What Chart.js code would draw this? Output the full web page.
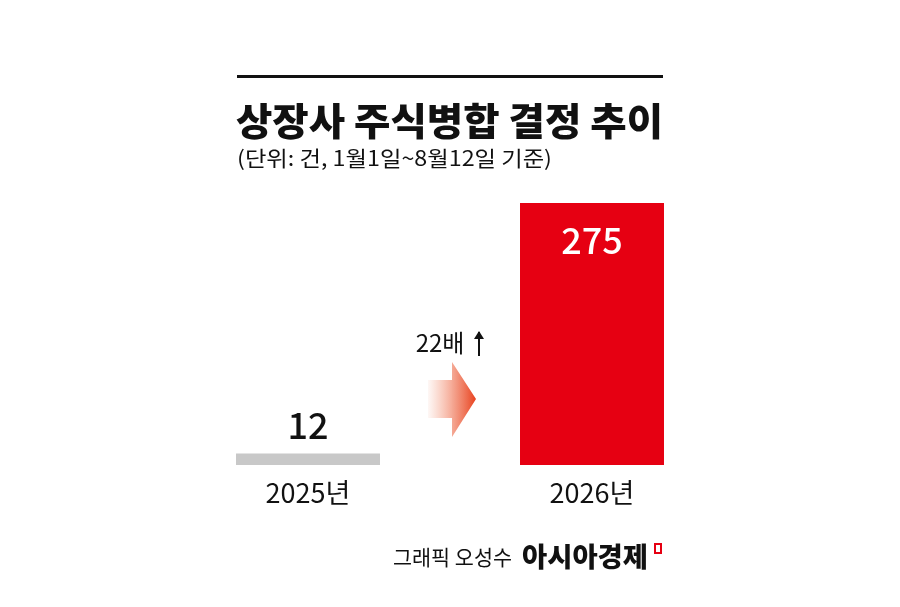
<!DOCTYPE html><html><head><meta charset="utf-8"><style>body{margin:0;background:#fff}</style>
<script src="https://cdn.jsdelivr.net/npm/chart.js@4.4.0/dist/chart.umd.min.js"></script></head><body>
<div style="width:900px;height:607px"><canvas id="c" width="900" height="607"></canvas></div>
<script>
const categories=["2025년","2026년"];
const values=[12,275];
const colors=["#c8c8c8","#e60012"];
const F='"Noto Sans CJK KR"';
function fitText(c,t,x,y,w){const m=c.measureText(t).width;c.save();c.translate(x,y);c.scale(w/m,1);c.fillText(t,0,0);c.restore();}
const deco={id:'deco',afterDatasetsDraw(ch){
 const c=ch.ctx,m=ch.getDatasetMeta(0);c.save();
 c.fillStyle='#111';c.fillRect(237,75,426,3);
 c.textBaseline='middle';c.textAlign='left';
 c.font='900 38px '+F;fitText(c,'상장사 주식병합 결정 추이',236,121,427);
 c.font='21px '+F;fitText(c,'(단위: 건, 1월1일~8월12일 기준)',237,158,315);
 c.textAlign='center';
 m.data.forEach((b,i)=>{
  c.font='27px '+F;c.fillStyle='#111';c.fillText(categories[i],b.x,493);
  if(i==0){c.font='500 36px '+F;c.fillText(values[i],b.x,425);}
  else{c.font='500 36px '+F;c.fillStyle='#fff';c.fillText(values[i],b.x,240);}
 });
 c.fillStyle='#111';c.font='24px '+F;c.fillText('22배',440,343);
 c.lineWidth=2;c.strokeStyle='#111';c.beginPath();c.moveTo(479,356);c.lineTo(479,332);c.stroke();
 c.beginPath();c.moveTo(474,339);c.lineTo(479,331);c.lineTo(484,339);c.fill();
 const g=c.createLinearGradient(428,0,476,0);g.addColorStop(0,'rgba(240,120,80,0.05)');g.addColorStop(1,'#e8411e');
 c.fillStyle=g;c.beginPath();c.moveTo(428,380);c.lineTo(452,380);c.lineTo(452,362);c.lineTo(476,399);c.lineTo(452,437);c.lineTo(452,418);c.lineTo(428,418);c.closePath();c.fill();
 c.textAlign='left';c.fillStyle='#111';c.font='21px '+F;fitText(c,'그래픽 오성수',393,557,119);
 c.font='900 27px '+F;fitText(c,'아시아경제',522,557,126);
 c.strokeStyle='#e60012';c.lineWidth=2;c.strokeRect(655,544,6,9);
 c.restore();}};
new Chart(document.getElementById('c'),{type:'bar',
 data:{labels:categories,datasets:[{data:values,backgroundColor:colors,barPercentage:0.507,categoryPercentage:1}]},
 options:{responsive:false,animation:false,layout:{padding:{left:166,right:166,top:203,bottom:142}},
  plugins:{legend:{display:false},tooltip:{enabled:false}},
  scales:{x:{display:false},y:{display:false,min:0,max:275}}},plugins:[deco]});
</script></body></html>
